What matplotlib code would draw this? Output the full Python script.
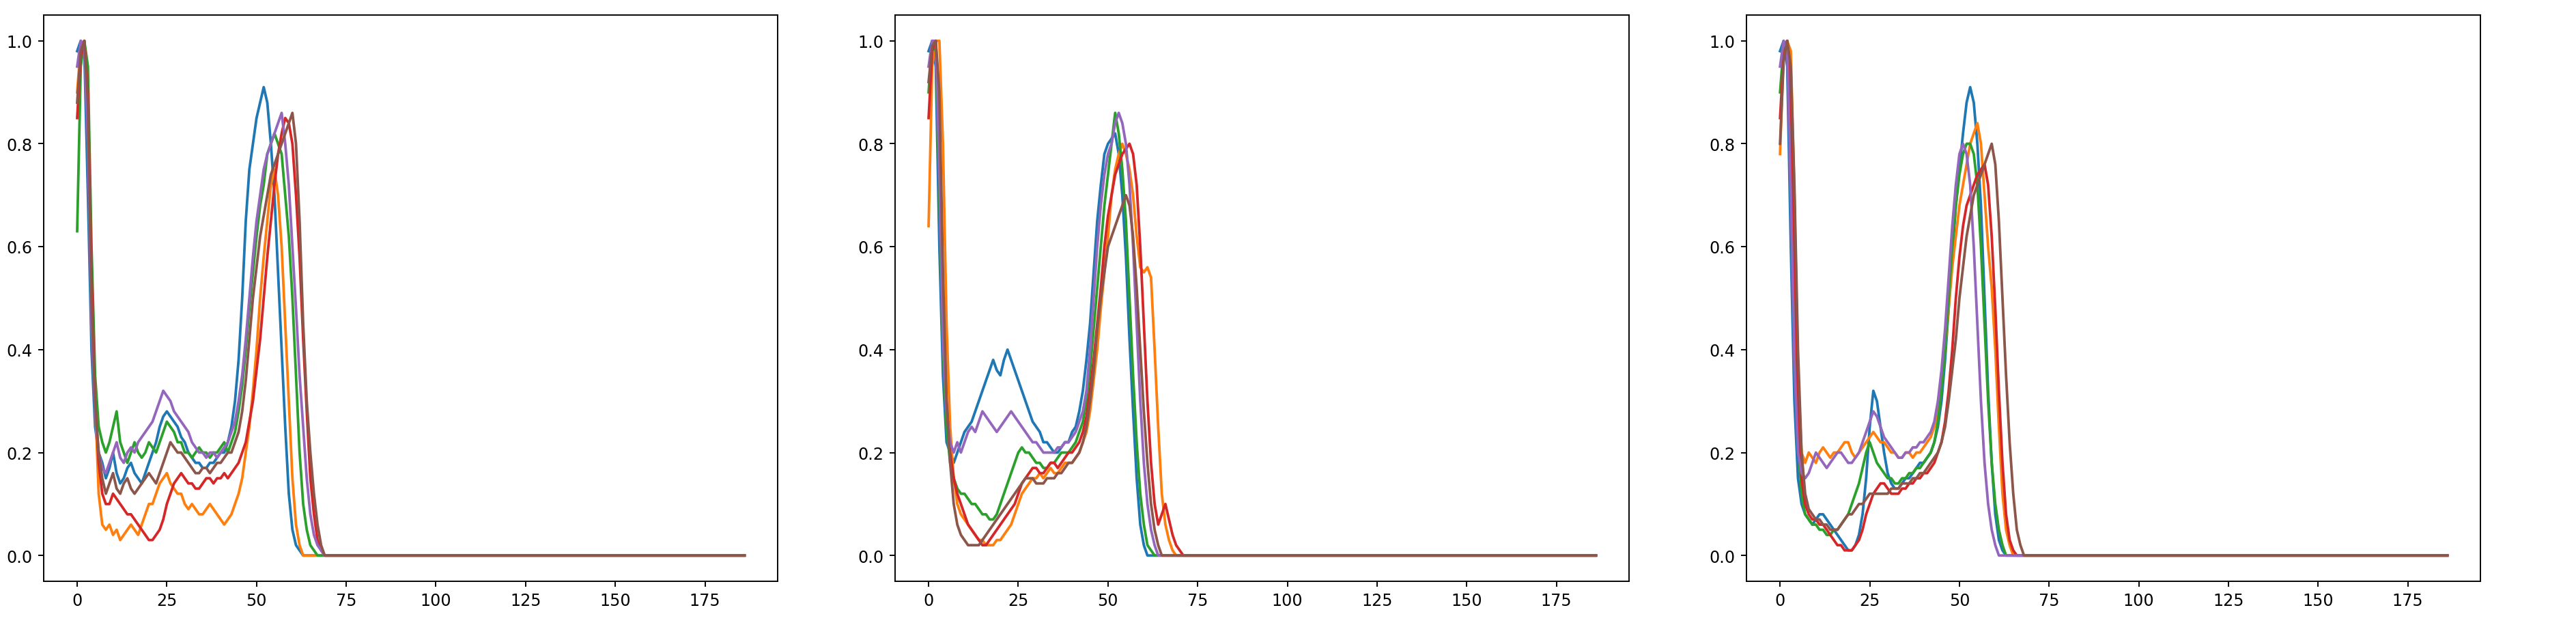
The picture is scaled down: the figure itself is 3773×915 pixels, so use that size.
import matplotlib.pyplot as plt

N = 187
def pad(v):
    return v + [0.0] * (N - len(v))

p1 = [
 [0.98,1.0,0.98,0.7,0.4,0.25,0.2,0.18,0.15,0.17,0.2,0.16,0.14,0.15,0.17,0.18,0.16,0.15,0.14,0.16,0.18,0.2,0.22,0.25,0.27,0.28,0.27,0.26,0.25,0.23,0.22,0.2,0.19,0.18,0.18,0.17,0.17,0.18,0.18,0.19,0.2,0.2,0.22,0.25,0.3,0.38,0.5,0.65,0.75,0.8,0.85,0.88,0.91,0.88,0.8,0.7,0.55,0.4,0.25,0.12,0.05,0.02,0.01],
 [0.9,0.99,1.0,0.85,0.5,0.3,0.12,0.06,0.05,0.06,0.04,0.05,0.03,0.04,0.05,0.06,0.05,0.04,0.06,0.08,0.1,0.1,0.12,0.14,0.15,0.16,0.14,0.13,0.12,0.12,0.1,0.09,0.1,0.09,0.08,0.08,0.09,0.1,0.09,0.08,0.07,0.06,0.07,0.08,0.1,0.12,0.15,0.2,0.25,0.32,0.4,0.5,0.58,0.65,0.72,0.75,0.7,0.6,0.45,0.3,0.15,0.06,0.02,0.0],
 [0.63,0.95,1.0,0.95,0.6,0.35,0.25,0.22,0.2,0.22,0.25,0.28,0.22,0.2,0.18,0.2,0.22,0.2,0.19,0.2,0.22,0.21,0.2,0.22,0.24,0.26,0.25,0.24,0.22,0.22,0.2,0.2,0.19,0.2,0.21,0.2,0.2,0.19,0.2,0.2,0.21,0.22,0.2,0.22,0.24,0.28,0.33,0.4,0.48,0.55,0.62,0.68,0.72,0.78,0.8,0.82,0.8,0.78,0.7,0.62,0.5,0.35,0.2,0.1,0.05,0.02,0.01],
 [0.85,0.97,1.0,0.9,0.55,0.3,0.18,0.12,0.1,0.1,0.12,0.11,0.1,0.09,0.08,0.08,0.07,0.06,0.05,0.04,0.03,0.03,0.04,0.05,0.07,0.1,0.12,0.14,0.15,0.16,0.15,0.14,0.14,0.13,0.13,0.14,0.15,0.15,0.14,0.15,0.15,0.16,0.15,0.16,0.17,0.18,0.2,0.22,0.26,0.3,0.36,0.42,0.5,0.58,0.65,0.72,0.78,0.82,0.85,0.84,0.8,0.7,0.58,0.42,0.28,0.15,0.08,0.03,0.01],
 [0.95,1.0,0.99,0.8,0.45,0.28,0.2,0.17,0.16,0.18,0.2,0.22,0.19,0.18,0.2,0.21,0.2,0.22,0.23,0.24,0.25,0.26,0.28,0.3,0.32,0.31,0.3,0.28,0.27,0.26,0.25,0.24,0.22,0.21,0.2,0.2,0.19,0.2,0.2,0.19,0.2,0.21,0.22,0.24,0.26,0.3,0.35,0.42,0.5,0.58,0.65,0.7,0.75,0.78,0.8,0.82,0.84,0.86,0.8,0.72,0.6,0.48,0.35,0.25,0.15,0.08,0.04,0.02,0.01],
 [0.88,0.98,1.0,0.88,0.5,0.3,0.2,0.15,0.12,0.14,0.16,0.13,0.12,0.14,0.15,0.13,0.12,0.13,0.14,0.15,0.16,0.15,0.14,0.16,0.18,0.2,0.22,0.21,0.2,0.2,0.19,0.18,0.17,0.16,0.16,0.17,0.17,0.16,0.17,0.18,0.18,0.19,0.2,0.2,0.22,0.24,0.28,0.34,0.42,0.5,0.56,0.62,0.66,0.7,0.74,0.76,0.78,0.8,0.82,0.84,0.86,0.8,0.65,0.45,0.3,0.2,0.12,0.06,0.02,0.0],
]
p2 = [
 [0.98,1.0,0.95,0.6,0.35,0.22,0.2,0.18,0.2,0.22,0.24,0.25,0.26,0.28,0.3,0.32,0.34,0.36,0.38,0.36,0.35,0.38,0.4,0.38,0.36,0.34,0.32,0.3,0.28,0.26,0.25,0.24,0.22,0.22,0.21,0.2,0.2,0.21,0.22,0.22,0.24,0.25,0.28,0.32,0.38,0.45,0.55,0.65,0.72,0.78,0.8,0.81,0.82,0.78,0.7,0.58,0.42,0.28,0.15,0.06,0.02,0.0],
 [0.64,0.95,1.0,1.0,0.8,0.45,0.25,0.15,0.1,0.08,0.07,0.06,0.05,0.04,0.03,0.03,0.02,0.02,0.02,0.03,0.03,0.04,0.05,0.06,0.08,0.1,0.12,0.13,0.14,0.15,0.15,0.16,0.15,0.16,0.17,0.16,0.16,0.17,0.18,0.18,0.18,0.19,0.2,0.22,0.24,0.28,0.34,0.4,0.48,0.55,0.62,0.7,0.75,0.78,0.8,0.78,0.75,0.7,0.62,0.56,0.55,0.56,0.54,0.4,0.25,0.12,0.06,0.03,0.01],
 [0.9,1.0,0.98,0.7,0.4,0.25,0.18,0.15,0.13,0.12,0.12,0.11,0.1,0.1,0.09,0.08,0.08,0.07,0.07,0.08,0.1,0.12,0.14,0.16,0.18,0.2,0.21,0.2,0.2,0.19,0.18,0.18,0.17,0.17,0.18,0.18,0.19,0.2,0.2,0.2,0.21,0.22,0.24,0.26,0.3,0.36,0.44,0.52,0.6,0.68,0.74,0.8,0.86,0.82,0.75,0.65,0.5,0.35,0.22,0.12,0.06,0.02,0.01],
 [0.85,0.98,1.0,0.85,0.5,0.3,0.2,0.15,0.12,0.1,0.08,0.06,0.05,0.04,0.03,0.02,0.02,0.03,0.04,0.05,0.06,0.07,0.08,0.09,0.1,0.12,0.14,0.15,0.16,0.17,0.17,0.16,0.16,0.17,0.18,0.18,0.17,0.18,0.19,0.2,0.2,0.21,0.22,0.24,0.27,0.32,0.38,0.45,0.52,0.6,0.66,0.7,0.74,0.76,0.78,0.79,0.8,0.78,0.72,0.6,0.45,0.3,0.18,0.1,0.06,0.08,0.1,0.07,0.04,0.02,0.01],
 [0.95,1.0,1.0,0.75,0.42,0.28,0.22,0.2,0.22,0.2,0.22,0.24,0.25,0.24,0.26,0.28,0.27,0.26,0.25,0.24,0.25,0.26,0.27,0.28,0.27,0.26,0.25,0.24,0.23,0.22,0.22,0.21,0.2,0.2,0.2,0.2,0.21,0.21,0.22,0.22,0.23,0.24,0.26,0.28,0.32,0.4,0.5,0.6,0.68,0.74,0.78,0.8,0.84,0.86,0.84,0.8,0.72,0.6,0.45,0.3,0.18,0.1,0.05,0.02,0.0],
 [0.92,0.99,1.0,0.9,0.55,0.3,0.18,0.1,0.06,0.04,0.03,0.02,0.02,0.02,0.02,0.03,0.04,0.05,0.06,0.07,0.08,0.09,0.1,0.11,0.12,0.13,0.14,0.15,0.15,0.15,0.14,0.14,0.14,0.15,0.15,0.15,0.16,0.16,0.17,0.18,0.18,0.19,0.2,0.22,0.25,0.3,0.36,0.44,0.5,0.55,0.6,0.62,0.64,0.66,0.68,0.7,0.68,0.62,0.52,0.4,0.28,0.18,0.1,0.05,0.02,0.0],
]
p3 = [
 [0.98,1.0,0.95,0.6,0.3,0.15,0.1,0.08,0.07,0.06,0.07,0.08,0.08,0.07,0.06,0.05,0.04,0.03,0.02,0.01,0.01,0.02,0.04,0.08,0.15,0.25,0.32,0.3,0.25,0.2,0.16,0.14,0.13,0.13,0.14,0.15,0.15,0.16,0.17,0.18,0.18,0.19,0.2,0.22,0.25,0.3,0.38,0.48,0.58,0.68,0.75,0.82,0.88,0.91,0.88,0.8,0.68,0.5,0.32,0.18,0.08,0.03,0.01],
 [0.78,0.98,1.0,0.98,0.7,0.35,0.2,0.18,0.2,0.19,0.18,0.2,0.21,0.2,0.19,0.2,0.2,0.21,0.22,0.22,0.2,0.19,0.2,0.21,0.22,0.23,0.24,0.23,0.22,0.22,0.21,0.2,0.2,0.19,0.19,0.2,0.2,0.19,0.2,0.2,0.21,0.22,0.23,0.25,0.28,0.33,0.4,0.48,0.56,0.62,0.68,0.72,0.76,0.8,0.82,0.84,0.8,0.7,0.6,0.52,0.4,0.25,0.12,0.05,0.02,0.0],
 [0.9,0.99,1.0,0.8,0.45,0.22,0.12,0.08,0.07,0.06,0.06,0.05,0.05,0.04,0.04,0.05,0.05,0.06,0.07,0.08,0.1,0.12,0.14,0.17,0.2,0.22,0.2,0.18,0.17,0.16,0.15,0.15,0.14,0.14,0.15,0.15,0.16,0.16,0.17,0.17,0.18,0.19,0.2,0.22,0.26,0.32,0.4,0.5,0.6,0.68,0.74,0.78,0.8,0.8,0.78,0.72,0.6,0.45,0.3,0.18,0.1,0.05,0.02,0.0],
 [0.85,0.97,1.0,0.9,0.6,0.3,0.15,0.1,0.08,0.07,0.07,0.06,0.06,0.05,0.04,0.03,0.02,0.02,0.01,0.01,0.01,0.02,0.03,0.05,0.08,0.1,0.12,0.13,0.14,0.14,0.13,0.12,0.12,0.12,0.13,0.13,0.14,0.14,0.15,0.15,0.16,0.16,0.17,0.18,0.2,0.22,0.26,0.32,0.4,0.5,0.58,0.64,0.68,0.7,0.72,0.74,0.75,0.76,0.72,0.62,0.48,0.32,0.18,0.08,0.03,0.01],
 [0.95,1.0,0.98,0.7,0.38,0.2,0.16,0.15,0.16,0.18,0.2,0.19,0.18,0.17,0.18,0.19,0.2,0.2,0.19,0.18,0.18,0.19,0.2,0.22,0.24,0.26,0.28,0.27,0.25,0.23,0.22,0.21,0.2,0.19,0.19,0.2,0.2,0.21,0.21,0.22,0.22,0.23,0.24,0.26,0.3,0.36,0.44,0.54,0.64,0.72,0.78,0.8,0.78,0.72,0.6,0.45,0.3,0.18,0.1,0.05,0.02,0.0],
 [0.8,0.96,1.0,0.95,0.72,0.4,0.2,0.12,0.09,0.08,0.07,0.07,0.06,0.06,0.05,0.05,0.05,0.06,0.07,0.08,0.08,0.09,0.1,0.1,0.11,0.12,0.12,0.12,0.12,0.12,0.12,0.13,0.13,0.13,0.14,0.14,0.14,0.15,0.15,0.16,0.16,0.17,0.18,0.19,0.2,0.22,0.25,0.3,0.36,0.42,0.5,0.56,0.62,0.66,0.7,0.72,0.74,0.76,0.78,0.8,0.76,0.65,0.5,0.35,0.22,0.12,0.05,0.02,0.0],
]
panels = [p1, p2, p3]

fig, axes = plt.subplots(1, 3, figsize=(22, 5.34), dpi=171.5)
fig.subplots_adjust(left=0.017, right=0.963, bottom=0.07, top=0.975, wspace=0.16)
x = list(range(N))
for ax, series in zip(axes, panels):
    for s in series:
        ax.plot(x, pad(s), lw=1.6)
    ax.set_ylim(-0.05, 1.05)
    ax.set_xticks([0, 25, 50, 75, 100, 125, 150, 175])
fig.savefig("out.png")
